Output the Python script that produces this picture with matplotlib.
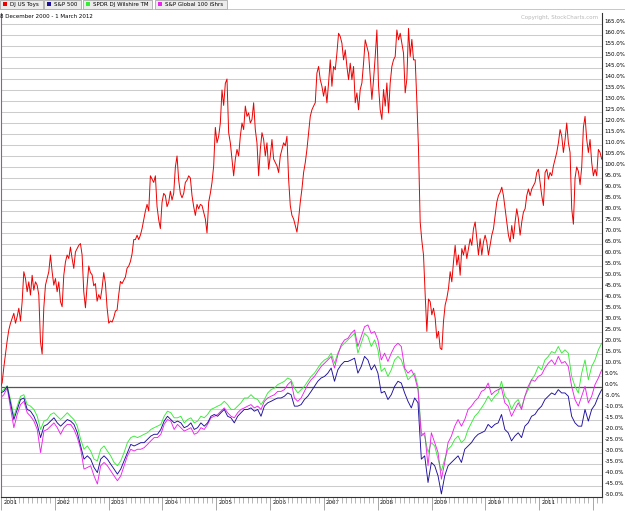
import pandas as pd
import matplotlib
matplotlib.use('Agg')
import matplotlib.pyplot as plt
import matplotlib.dates as mdates
from matplotlib.patches import Rectangle
from matplotlib.transforms import ScaledTranslation

# period shown and series (percent change since start)
start, end = '2000-12-28', '2012-03-01'
names = ['DJ US Toys', 'S&P 500', 'SPDR DJ Wilshire TM', 'S&P Global 100 iShrs']
colors = ['#ee0000', '#1c0f9e', '#33ee33', '#ee22ee']

toys = [0, 2, 9, 15, 21,
        26, 29, 31.3, 33.5, 29, 32, 35.8, 30, 38.8, 52.4, 49.3, 43.3, 47.8, 41.8, 50.8, 44, 47.8, 46.3, 41.8, 20.7,
        15, 36, 46.3, 49.3, 52.4, 60, 52.4, 46.3, 49.3, 43.3, 47.8, 38.8, 36.5, 50.8, 56.8, 60, 58.4, 63.6, 58.4, 53.9,
        61.4, 62.9, 64.4, 65.2, 60,
        43.3, 36, 46, 55, 52, 51, 46, 47, 39, 42, 40, 45, 52, 47, 36, 29, 30, 29.5, 31.5, 34.5, 35, 42, 48, 47, 48.5,
        50, 54, 55, 57, 60.5, 67, 67, 69, 67, 69, 72, 76, 80, 83, 80, 96, 94.5, 93, 96, 82, 76, 72, 84, 88, 87,
        82, 84, 89, 85, 88, 100, 105, 94, 88, 86, 88, 93, 94, 96, 95, 87, 82, 78, 83, 81, 83,
        82.5, 79.5, 76.4, 70, 84, 88, 93, 100.5, 118, 111, 114, 120, 135, 128, 138, 140, 115.6, 111, 103.6, 96,
        103.6, 108, 105, 114, 120,
        117, 127.7, 123, 124.6, 120, 121.6, 129.2, 117, 111, 96, 108, 115.6, 112.5, 105, 111, 99, 105, 112.5, 103.6,
        102, 100.5, 97.5, 105, 108, 111,
        109.6, 114, 94.5, 82.5, 78, 76.4, 73.4, 70.4, 76.4, 84, 90, 97.5, 102, 108, 115.6, 123, 126, 127.7, 129.2,
        142.7, 145.7, 139.7, 136.7, 132.2, 136.7,
        129.2, 138.2, 148.7, 136.7, 145.7, 144.2, 151.7, 160.8, 159.3, 156.3, 148.7, 153.2, 145.7, 139.7, 147.2,
        139.7, 145.7, 129.2, 133.7, 126, 135.2, 138.2, 147.2, 157.8, 154.8,
        151.7, 141.2, 130.7, 139.7, 150.2, 162.3, 136.7, 126, 121.6, 135.2, 127.7, 138.2, 124.6, 138.2, 145.7,
        148.7, 150.2, 162.3, 157.8, 160.8, 156.3, 151.7, 133.7, 140, 163,
        150.2, 158, 148.7, 148.7, 130, 108, 75, 66.5, 60, 42, 25.3, 40, 38.8, 32.8, 35.8, 31.3, 22.2, 25.3, 17.7,
        17, 29.8, 37.3, 40.3, 44.8, 52.4,
        47.8, 56.8, 64.4, 55.4, 60, 50.8, 62.9, 60, 64.4, 58.4, 62.9, 67.4, 64.4, 71.9, 75, 67.4, 60, 67.4, 60,
        65.9, 69, 65.9, 60, 64.4, 69,
        71.9, 78, 84, 87, 88.5, 90.8, 87, 81, 75, 69, 65.9, 73.4, 67.4, 75, 81, 76.4, 69, 75, 79.5, 81, 87, 90, 87,
        90, 91.5,
        93, 97.5, 99, 93, 87, 82.5, 97.5, 99, 94.5, 97.5, 96, 100.5, 103.6, 106.6, 111, 117, 114, 106.6, 112.5,
        120, 111, 106.6, 81, 74, 95,
        100, 98, 92, 100, 118, 123, 112.5, 106.6, 112.5, 102, 96, 99, 96, 108, 106.6, 103.6]

sp500 = [-2.7, -2.0, 0.3, -7.2, -14.8, -10.2, -5.7, -5.0, -10.2, -11.0, -13.3, -17.0, -23.0, -17.8, -17.0, -15.5,
         -14.0, -16.3, -17.8, -16.3, -14.8, -15.5, -17.0, -20.8, -26.8, -32.8, -31.3, -32.8, -36.6, -38.9, -32.8,
         -31.3, -32.8, -35.1, -37.3, -39.6, -37.3, -33.6, -29.8, -26.1, -26.8, -26.1, -25.3, -25.3, -23.8, -22.3,
         -21.5, -21.5, -19.3, -15.5, -13.3, -14.8, -16.3, -15.5, -16.3, -18.5, -17.8, -16.3, -19.3, -18.5, -16.3,
         -17.8, -16.3, -13.3, -12.5, -13.3, -11.7, -10.2, -13.3, -14.0, -16.3, -13.3, -11.7, -10.2, -10.2, -9.5,
         -11.0, -10.2, -13.3, -8.7, -7.2, -6.5, -5.7, -5.0, -5.0, -4.2, -2.7, -3.5, -8.7, -8.7, -8.0, -5.7, -4.2,
         -2.0, 0.3, 2.6, 4.1, 4.8, 6.3, 8.6, 2.6, 7.8, 10.1, 11.6, 11.6, 12.3, 13.1, 6.3, 9.3, 13.9, 12.3, 7.8,
         10.1, 6.3, -2.7, -2.0, -5.7, -3.5, 0.3, 2.6, 1.8,
         -2.7, -6.5, -9.5, -5.0, -7.2, -32.8, -31.3, -43.4, -34.3, -35.8, -40.4, -48.6, -40.4, -35.8, -34.3, -32.8,
         -31.3, -34.3, -28.3, -26.8, -25.3, -23.0, -21.5, -20.8, -20.0, -17.0, -18.5, -17.0, -16.3, -12.5, -19.3,
         -20.8, -24.5, -22.3, -20.8, -23.0, -17.8, -16.3, -13.3, -12.5, -10.2, -8.7, -5.7, -4.2, -2.7, -3.5, -1.2,
         -2.7, -2.7, -4.2, -13.3, -16.3, -17.8, -17.8, -10.2, -15.5, -10.2, -8.0, -4.2, -1.2]

wilshire = [-2.0, -1.2, 0.6, -5.7, -13.3, -8.7, -4.2, -3.5, -8.0, -8.7, -10.2, -13.3, -19.3, -15.5, -14.8, -12.5,
            -11.7, -13.3, -14.8, -13.3, -11.7, -13.3, -14.8, -17.8, -23.8, -28.3, -26.8, -29.1, -32.8, -33.6, -28.3,
            -26.8, -29.1, -31.3, -34.3, -35.8, -33.6, -29.8, -25.3, -23.0, -22.3, -23.0, -22.3, -21.5, -20.8, -19.3,
            -18.5, -17.8, -17.0, -13.3, -11.0, -11.7, -14.0, -14.0, -13.3, -16.3, -14.8, -14.0, -16.3, -15.5, -13.3,
            -14.0, -12.5, -10.2, -9.5, -8.7, -8.0, -6.5, -8.0, -10.2, -10.2, -8.7, -7.2, -5.0, -5.0, -3.5, -5.0,
            -5.7, -8.0, -5.7, -2.7, -1.2, -0.5, 1.1, 1.8, 2.6, 4.1, 3.3, -0.5, -2.7, -1.2, 0.3, 2.6, 4.8, 6.3, 8.6,
            10.8, 12.3, 13.1, 15.4, 10.8, 15.4, 18.4, 19.9, 21.4, 22.9, 24.4, 15.4, 19.9, 24.4, 22.9, 18.4, 21.4,
            16.9, 7.1, 8.6, 4.8, 7.8, 12.3, 13.9, 12.3,
            7.8, 3.3, 4.8, 6.3, 0.3, -20.8, -22.3, -29.8, -25.3, -26.8, -32.8, -38.1, -32.8, -28.3, -26.8, -23.8,
            -22.3, -25.3, -23.8, -19.3, -16.3, -13.3, -11.7, -9.5, -7.2, -4.2, -6.5, -4.2, -2.7, 2.6, -4.2, -5.7,
            -10.2, -7.2, -5.7, -9.5, -4.2, -1.2, 3.3, 5.6, 9.3, 7.8, 12.3, 13.9, 16.1, 15.4, 18.4, 15.4, 16.9, 15.4,
            4.8, 0.3, -2.7, 6.3, 12.3, 3.3, 9.3, 12.3, 16.9, 19.9]

global100 = [-5.0, -3.5, -0.5, -9.5, -18.5, -12.5, -8.0, -6.5, -11.7, -13.3, -15.5, -19.3, -29.8, -20.0, -19.3,
             -17.8, -16.3, -18.5, -21.5, -18.5, -17.0, -17.0, -19.3, -23.0, -28.3, -37.3, -36.6, -35.8, -40.4,
             -44.1, -35.8, -34.3, -35.8, -38.1, -40.4, -42.6, -40.4, -35.8, -31.3, -28.3, -29.1, -28.3, -28.3,
             -27.6, -26.1, -24.5, -23.0, -23.0, -21.5, -17.0, -14.8, -15.5, -19.3, -17.0, -18.5, -20.0, -19.3,
             -18.5, -21.5, -20.8, -18.5,
             -19.3, -17.0, -14.0, -13.3, -12.5, -11.0, -9.5, -11.7, -13.3, -14.0, -11.7, -10.2, -9.5, -8.7, -8.0,
             -9.5, -8.7, -10.2, -6.5, -5.0, -4.2, -3.5, -2.0, -2.0, -1.2, 1.1, 2.6, -5.0, -6.5, -5.0, -2.0, 1.1,
             3.3, 4.8, 7.1, 9.3, 10.8, 12.3, 13.9, 8.6, 14.6, 19.1, 21.4, 22.1, 24.4, 25.9, 18.4, 22.9, 27.4, 28.2,
             24.4, 25.2, 21.4, 12.3, 15.4, 11.6, 15.4, 18.4, 19.9, 18.4,
             8.6, 6.3, 7.8, 4.8, -1.2, -22.3, -20.8, -35.8, -20.8, -25.3, -29.8, -41.9, -34.3, -25.3, -22.3, -17.8,
             -14.8, -17.8, -14.8, -10.2, -8.7, -6.5, -5.0, -2.0, -1.2, 1.8, -3.5, -2.0, -1.2, -0.5, -7.2, -8.7,
             -13.3, -10.2, -7.2, -10.2, -4.2, 0.3, 3.3, 2.6, 4.8, 5.6, 8.6, 10.8, 12.3, 10.1, 13.9, 10.8, 11.6, 9.3,
             0.3, -5.7, -8.7, -4.2, 0.3, -7.2, -4.2, 1.1, 4.1, 7.8]

W, H = 625, 511
fig = plt.figure(figsize=(W / 100, H / 100), dpi=100)
fig.patch.set_facecolor('white')


def fx(x):
    return x / W


def fy(y):
    return 1 - y / H


ax = fig.add_axes([fx(0.5), fy(497), fx(602) - fx(0.5), fy(13) - fy(497)])

long_dates = pd.date_range(start, end, periods=len(toys))
short_dates = pd.date_range(start, end, periods=len(sp500))

# grid
levels = list(range(-50, 170, 5))
for v in levels:
    ax.axhline(v, color='#cccccc', lw=0.75, zorder=0)
ax.axhline(0, color='#555555', lw=0.9, zorder=1)

ax.plot(short_dates, wilshire, color=colors[2], lw=0.65, zorder=2)
ax.plot(short_dates, global100, color=colors[3], lw=0.65, zorder=3)
ax.plot(short_dates, sp500, color=colors[1], lw=0.65, zorder=4)
ax.plot(long_dates, toys, color=colors[0], lw=0.7, zorder=5)

ax.set_xlim(pd.Timestamp(start), pd.Timestamp('2012-03-03'))
ax.set_ylim(-50, 170)

ax.yaxis.tick_right()
ax.set_yticks(levels)
ax.set_yticklabels([f'{v:.1f}%' for v in levels])
ax.tick_params(axis='y', length=0, pad=2, labelsize=4)
for lab in ax.get_yticklabels():
    lab.set_transform(lab.get_transform() + ScaledTranslation(0, 2.5 / 72, fig.dpi_scale_trans))

ax.xaxis.set_major_locator(mdates.YearLocator())
ax.xaxis.set_major_formatter(plt.FuncFormatter(
    lambda d, pos: mdates.num2date(d).strftime('%Y') if mdates.num2date(d).year < 2012 else ''))
ax.xaxis.set_minor_locator(mdates.MonthLocator())
ax.tick_params(axis='x', which='major', length=9, width=0.6, color='#999999', labelsize=4, pad=-6.8)
ax.tick_params(axis='x', which='minor', length=4.5, width=0.6, color='#aaaaaa')
for lab in ax.get_xticklabels():
    lab.set_horizontalalignment('left')
    lab.set_transform(lab.get_transform() + ScaledTranslation(1.5 / 72, 0, fig.dpi_scale_trans))

ax.spines['top'].set_visible(False)
ax.spines['left'].set_color('#906090')
ax.spines['right'].set_color('#333333')
ax.spines['bottom'].set_color('#333333')
for s in ax.spines.values():
    s.set_linewidth(0.8)

# legend tabs
tabs = [(0, 43), (44, 81), (83, 152), (155, 227)]
for (x0, x1), name, c in zip(tabs, names, colors):
    fig.add_artist(Rectangle((fx(x0), fy(9)), fx(x1 - x0), fy(0) - fy(9), transform=fig.transFigure,
                             facecolor='#ececec', edgecolor='#9a9a9a', lw=0.5))
    fig.add_artist(Rectangle((fx(x0 + 3), fy(6.5)), fx(4), fy(0) - fy(4), transform=fig.transFigure,
                             facecolor=c, edgecolor='none'))
    fig.text(fx(x0 + 10), fy(4.6), name, fontsize=4, va='center', ha='left')
fig.add_artist(plt.Line2D([0, 1], [fy(9.5), fy(9.5)], transform=fig.transFigure, color='#b0b0b0', lw=0.5))

fig.text(fx(0), fy(17), '8 December 2000 - 1 March 2012', fontsize=4, va='center', ha='left')
fig.text(fx(598), fy(17), 'Copyright, StockCharts.com', fontsize=4, va='center', ha='right', color='#b8b8b8')

fig.savefig('out.png', dpi=100, facecolor='white')
